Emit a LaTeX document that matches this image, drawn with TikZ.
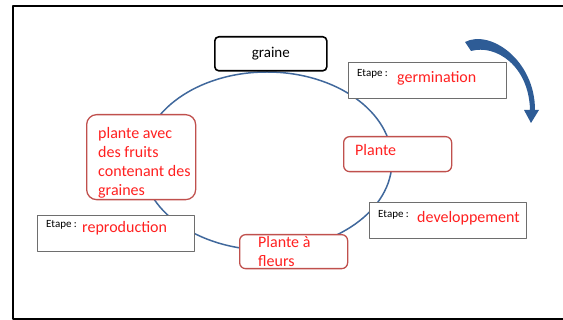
\documentclass[tikz,border=0pt]{standalone}
\usepackage{fontspec}
\setmainfont{Carlito}
\usetikzlibrary{positioning}
\definecolor{cycleblue}{RGB}{64,104,156}
\definecolor{arrowblue}{RGB}{46,92,150}
\definecolor{stagered}{RGB}{192,80,77}
\definecolor{textred}{RGB}{255,32,32}
\definecolor{etapegray}{RGB}{110,110,110}
\tikzset{
  seedbox/.style={draw=black,line width=1.6pt,rounded corners=4pt,fill=white,anchor=north west,inner sep=0pt,font=\fontsize{15}{18}\selectfont},
  stagebox/.style={draw=stagered,line width=1.3pt,rounded corners=6pt,fill=white,anchor=north west,inner sep=0pt},
  etapebox/.style={draw=etapegray,line width=.9pt,fill=white,anchor=north west,inner sep=0pt},
  redtxt/.style={text=textred,font=\fontsize{16}{19}\selectfont,inner sep=0pt,align=left},
  etapetxt/.style={font=\fontsize{11}{12}\selectfont,inner sep=0pt,anchor=base west}
}
\begin{document}
\begin{tikzpicture}[x=1pt,y=-1pt,line join=round]
\useasboundingbox (0,0) rectangle (563,320);
% cadre
\draw[line width=1.4pt] (563,6) -- (13,6) -- (13,319) -- (563,319);
% cycle
\draw[cycleblue,line width=1.5pt] (267,161) ellipse [x radius=125,y radius=89];
% fleche
\fill[arrowblue] (465,42) .. controls (490,29) and (535,60) .. (535,110) -- (539,110) -- (531,123) -- (524,110)
  -- (530,110) .. controls (529,66) and (496,44) .. (471,51) -- cycle;
% boites
\node[seedbox,minimum width=112pt,minimum height=34pt] (seed) at (214,36) {graine};
\node[etapebox,minimum width=158pt,minimum height=36pt] (germbox) at (348,62) {};
\node[stagebox,minimum width=108pt,minimum height=35pt] (plantbox) at (343,136) {};
\node[etapebox,minimum width=157pt,minimum height=36pt] (devbox) at (369,202) {};
\node[stagebox,minimum width=108pt,minimum height=34pt] (flowerbox) at (239,234) {};
\node[stagebox,minimum width=109pt,minimum height=85pt,rounded corners=10pt] (fruitbox) at (86,114) {};
\node[etapebox,minimum width=157pt,minimum height=36pt] (reprobox) at (37,215) {};
% textes
\node[etapetxt] (germlbl) at (357,77) {Etape :};
\node[redtxt,anchor=base west] (germtxt) at (397,83) {germination};
\node[redtxt,anchor=base west] (planttxt) at (355,156) {Plante};
\node[etapetxt] (devlbl) at (378,218) {Etape :};
\node[redtxt,anchor=base west] (devtxt) at (417,223) {developpement};
\node[redtxt,anchor=north west] (flowertxt) at (258,236) {Plante à\\fleurs};
\node[redtxt,anchor=north west] (fruittxt) at (98,127) {plante avec\\des fruits\\contenant des\\graines};
\node[etapetxt] (reprolbl) at (46,228) {Etape :};
\node[redtxt,anchor=base west] (reprotxt) at (82,233) {reproduction};
\end{tikzpicture}
\end{document}
